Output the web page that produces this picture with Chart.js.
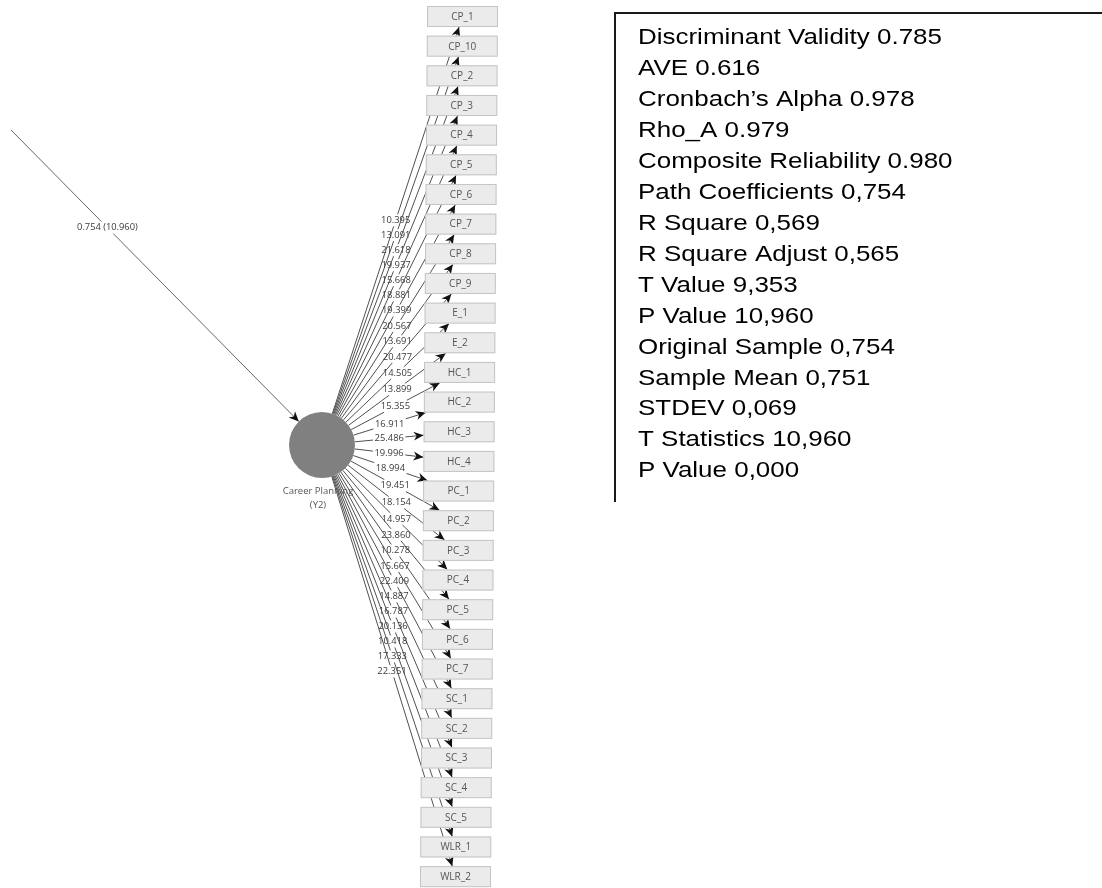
<!DOCTYPE html>
<html>
<head>
<meta charset="utf-8">
<script src="https://cdn.jsdelivr.net/npm/chart.js@4.4.0/dist/chart.umd.min.js"></script>
<style>
  html, body { margin: 0; padding: 0; background: #fff; overflow: hidden; }
  #wrap { width: 1102px; height: 888px; }
</style>
</head>
<body>
<div id="wrap"><canvas id="diagram" width="1102" height="888"></canvas></div>
<script>
// indicators of the construct, top to bottom
const indicators = ["CP_1", "CP_10", "CP_2", "CP_3", "CP_4", "CP_5", "CP_6", "CP_7", "CP_8", "CP_9",
  "E_1", "E_2", "HC_1", "HC_2", "HC_3", "HC_4", "PC_1", "PC_2", "PC_3", "PC_4", "PC_5", "PC_6", "PC_7",
  "SC_1", "SC_2", "SC_3", "SC_4", "SC_5", "WLR_1", "WLR_2"];

// t values of the outer loadings, same order
const loadings = [10.395, 13.091, 21.618, 19.937, 15.668, 18.881, 19.399, 20.567, 13.691, 20.477,
  14.505, 13.899, 15.355, 16.911, 25.486, 19.996, 18.994, 19.451, 18.154, 14.957, 23.860,
  10.278, 15.667, 22.409, 14.887, 16.787, 20.136, 10.418, 17.333, 22.351];

const constructName = "Career Planning";
const constructCode = "(Y2)";
const pathCoef = 0.754;
const pathT = 10.960;

// summary box on the right
const statNames = ["Discriminant Validity", "AVE", "Cronbach\u2019s Alpha", "Rho_A", "Composite Reliability",
  "Path Coefficients", "R Square", "R Square Adjust", "T Value", "P Value", "Original Sample",
  "Sample Mean", "STDEV", "T Statistics", "P Value"];
const statValues = ["0.785", "0.616", "0.978", "0.979", "0.980", "0,754", "0,569", "0,565", "9,353",
  "10,960", "0,754", "0,751", "0,069", "10,960", "0,000"];

// layout
const W = 1102, H = 888;
const circle = { x: 322, y: 445, r: 33 };
const boxW = 71, boxH = 21, boxTop = 6, boxStep = 29.66, boxLeft = 427, boxDrift = 7;
const pathStart = { x: 11, y: 130 };

function boxCenter(i) {
  const n = indicators.length - 1;
  return { x: boxLeft - boxDrift * i / n + boxW / 2, y: boxTop + i * boxStep + boxH / 2 };
}

// find where segment a->b enters and leaves rect r (returns [s0, s1] or null)
function clipSeg(a, b, r) {
  let s0 = 0, s1 = 1;
  const dx = b.x - a.x, dy = b.y - a.y;
  const p = [-dx, dx, -dy, dy];
  const q = [a.x - r.x0, r.x1 - a.x, a.y - r.y0, r.y1 - a.y];
  for (let k = 0; k < 4; k++) {
    if (p[k] === 0) { if (q[k] < 0) return null; continue; }
    const t = q[k] / p[k];
    if (p[k] < 0) s0 = Math.max(s0, t); else s1 = Math.min(s1, t);
  }
  return s0 < s1 ? [s0, s1] : null;
}

function lerp(a, b, t) { return { x: a.x + (b.x - a.x) * t, y: a.y + (b.y - a.y) * t }; }

// line with a gap for its label, label text, arrowhead at the end
function drawPath(ctx, s, e, m, text, font, color) {
  ctx.font = font;
  const tw = ctx.measureText(text).width;
  const rect = { x0: m.x - tw / 2 - 1.5, x1: m.x + tw / 2 + 1.5, y0: m.y - 6, y1: m.y + 6 };
  const gap = clipSeg(s, e, rect);
  ctx.strokeStyle = color;
  ctx.lineWidth = 1;
  ctx.beginPath();
  if (gap) {
    const g0 = lerp(s, e, gap[0]), g1 = lerp(s, e, gap[1]);
    ctx.moveTo(s.x, s.y); ctx.lineTo(g0.x, g0.y);
    ctx.moveTo(g1.x, g1.y); ctx.lineTo(e.x, e.y);
  } else {
    ctx.moveTo(s.x, s.y); ctx.lineTo(e.x, e.y);
  }
  ctx.stroke();

  // arrowhead
  const len = Math.hypot(e.x - s.x, e.y - s.y);
  const ux = (e.x - s.x) / len, uy = (e.y - s.y) / len;
  const al = 10, aw = 4.5;
  ctx.fillStyle = "#111";
  ctx.beginPath();
  ctx.moveTo(e.x, e.y);
  ctx.lineTo(e.x - ux * al - uy * aw, e.y - uy * al + ux * aw);
  ctx.lineTo(e.x - ux * al * 0.7, e.y - uy * al * 0.7);
  ctx.lineTo(e.x - ux * al + uy * aw, e.y - uy * al - ux * aw);
  ctx.closePath();
  ctx.fill();

  ctx.fillStyle = "#3a3a3a";
  ctx.textAlign = "center";
  ctx.textBaseline = "middle";
  ctx.fillText(text, m.x, m.y);
}

const diagramPlugin = {
  id: "diagram",
  beforeDatasetsDraw(chart) {
    const ctx = chart.ctx;
    const xs = chart.scales.x, ys = chart.scales.y;
    ctx.save();

    // summary box
    const bx = xs.getPixelForValue(615), by = ys.getPixelForValue(13);
    ctx.strokeStyle = "#1a1a1a";
    ctx.lineWidth = 2;
    ctx.beginPath();
    ctx.moveTo(bx, ys.getPixelForValue(502));
    ctx.lineTo(bx, by);
    ctx.lineTo(xs.getPixelForValue(W), by);
    ctx.stroke();

    ctx.fillStyle = "#000";
    ctx.textAlign = "left";
    ctx.textBaseline = "middle";
    ctx.font = "22px 'Liberation Sans', Arial, sans-serif";
    statNames.forEach((name, k) => {
      ctx.save();
      ctx.translate(xs.getPixelForValue(638), ys.getPixelForValue(38 + k * 30.95));
      ctx.scale(1.18, 1);
      ctx.fillText(name + " " + statValues[k], 0, 0);
      ctx.restore();
    });

    // construct label
    ctx.fillStyle = "#555";
    ctx.textAlign = "center";
    ctx.font = "9.5px 'Open Sans', sans-serif";
    const cx = xs.getPixelForValue(circle.x - 4);
    ctx.fillText(constructName, cx, ys.getPixelForValue(491));
    ctx.fillText(constructCode, cx, ys.getPixelForValue(505));
    ctx.restore();
  },
  afterDatasetsDraw(chart) {
    const ctx = chart.ctx;
    const xs = chart.scales.x, ys = chart.scales.y;
    const meta = chart.getDatasetMeta(1);
    const c = { x: xs.getPixelForValue(circle.x), y: ys.getPixelForValue(circle.y) };
    const rPix = Math.abs(xs.getPixelForValue(circle.x + circle.r) - c.x);
    const bw = Math.abs(xs.getPixelForValue(boxW) - xs.getPixelForValue(0));
    const bh = Math.abs(ys.getPixelForValue(0) - ys.getPixelForValue(boxH));
    ctx.save();

    // outer loadings (drawn first so the boxes cover the crossing lines)
    meta.data.forEach((pt, i) => {
      const dx = pt.x - c.x, dy = pt.y - c.y;
      const d = Math.hypot(dx, dy);
      const s = { x: c.x + rPix * dx / d, y: c.y + rPix * dy / d };
      const tEdge = Math.min((bw / 2) / Math.abs(dx), (bh / 2) / Math.abs(dy));
      const e = { x: pt.x - dx * tEdge, y: pt.y - dy * tEdge };
      const m = lerp(s, e, 0.5);
      drawPath(ctx, s, e, m, loadings[i].toFixed(3), "9.4px 'Open Sans', sans-serif", "#505050");
    });

    // indicator boxes
    meta.data.forEach((pt, i) => {
      ctx.fillStyle = "#ebebeb";
      ctx.strokeStyle = "#c4c4c4";
      ctx.lineWidth = 1;
      ctx.fillRect(pt.x - bw / 2, pt.y - bh / 2, bw, bh);
      ctx.strokeRect(pt.x - bw / 2 + 0.5, pt.y - bh / 2 + 0.5, bw - 1, bh - 1);
      ctx.fillStyle = "#555";
      ctx.font = "10px 'Open Sans', sans-serif";
      ctx.textAlign = "center";
      ctx.textBaseline = "middle";
      ctx.fillText(indicators[i], pt.x, pt.y + 0.5);
    });

    // structural path into the construct
    const p0 = { x: xs.getPixelForValue(pathStart.x), y: ys.getPixelForValue(pathStart.y) };
    const ddx = c.x - p0.x, ddy = c.y - p0.y, dd = Math.hypot(ddx, ddy);
    const pe = { x: c.x - rPix * ddx / dd, y: c.y - rPix * ddy / dd };
    drawPath(ctx, p0, pe, lerp(p0, pe, 0.335),
      pathCoef.toFixed(3) + " (" + pathT.toFixed(3) + ")", "9.3px 'Open Sans', sans-serif", "#666");

    ctx.restore();
  }
};

const chart = new Chart(document.getElementById("diagram"), {
  type: "scatter",
  data: {
    datasets: [
      {
        label: constructName,
        data: [{ x: circle.x, y: circle.y }],
        pointRadius: circle.r,
        pointHoverRadius: circle.r,
        backgroundColor: "#808080",
        borderWidth: 0
      },
      {
        label: "indicators",
        data: indicators.map((n, i) => boxCenter(i)),
        pointRadius: 0,
        pointHoverRadius: 0
      }
    ]
  },
  options: {
    responsive: false,
    animation: false,
    events: [],
    devicePixelRatio: 1,
    layout: { padding: 0, autoPadding: false },
    plugins: { legend: { display: false }, tooltip: { enabled: false } },
    scales: {
      x: { type: "linear", min: 0, max: W, display: false },
      y: { type: "linear", min: 0, max: H, reverse: true, display: false }
    }
  },
  plugins: [diagramPlugin]
});
</script>
</body>
</html>
